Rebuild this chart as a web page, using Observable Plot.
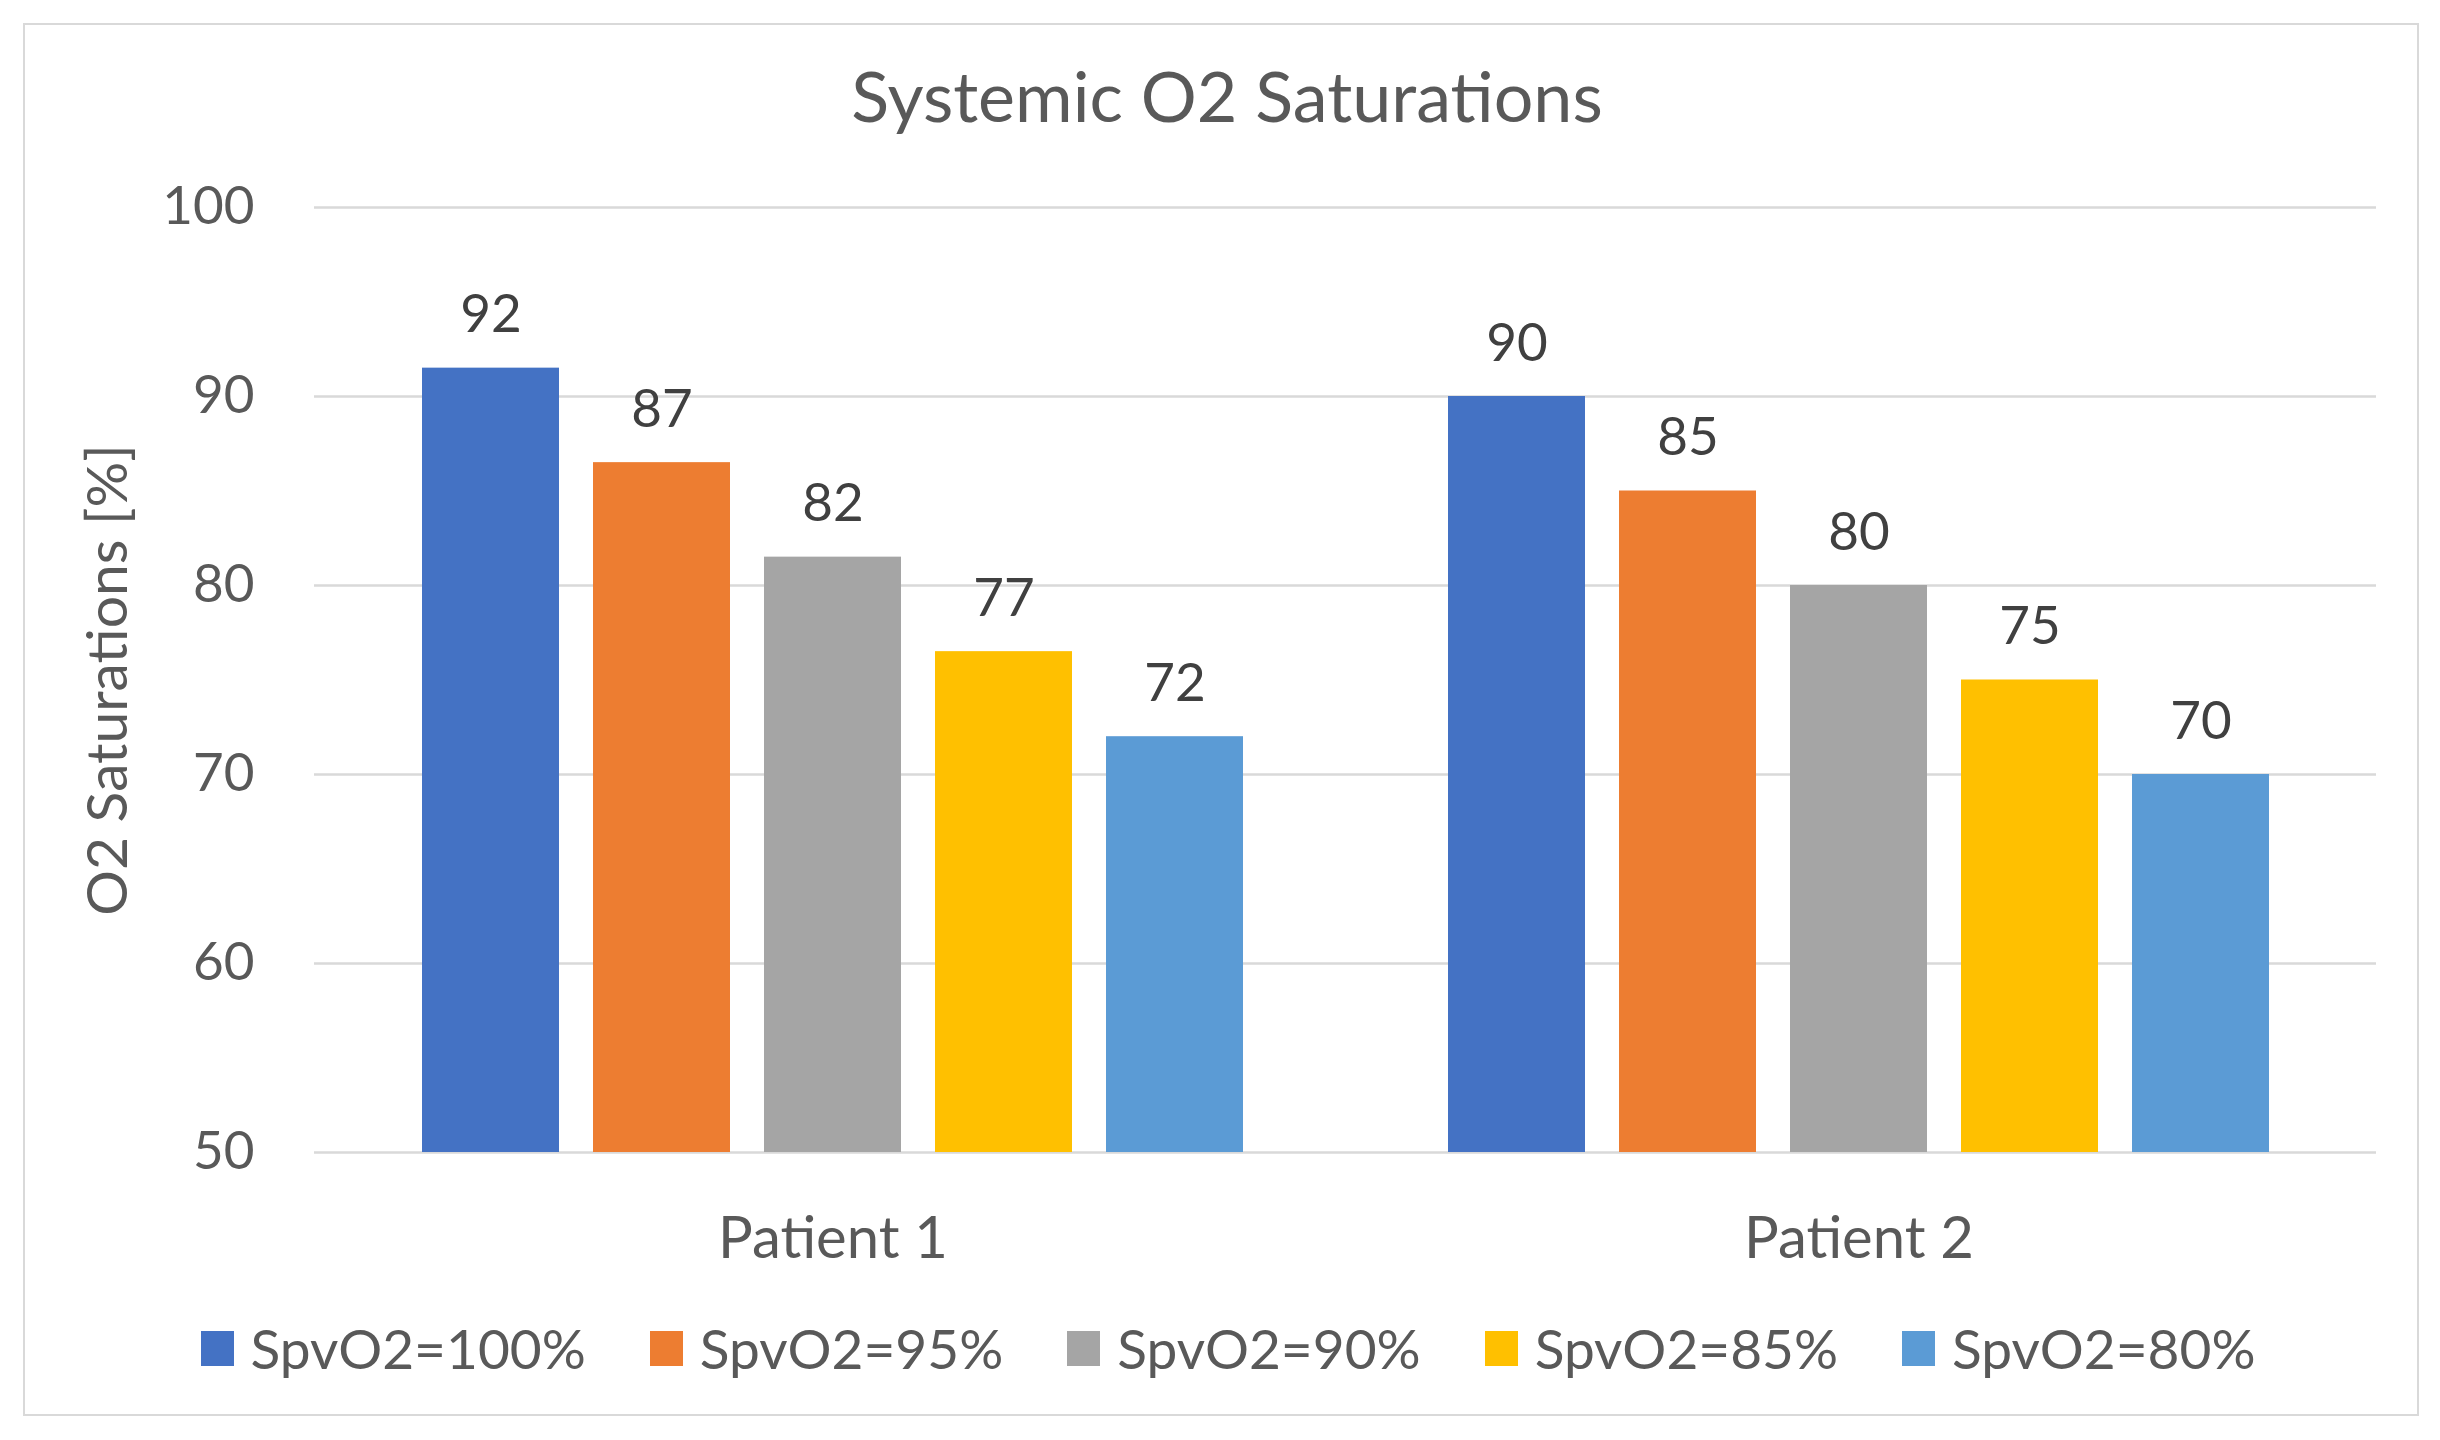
<!DOCTYPE html>
<html>
<head>
<meta charset="utf-8">
<script src="https://cdn.jsdelivr.net/npm/d3@7"></script>
<script src="https://cdn.jsdelivr.net/npm/@observablehq/plot@0.6"></script>
<style>
  html, body { margin: 0; padding: 0; background: #fff; }
  #page { position: relative; width: 2440px; height: 1440px; font-family: Lato, "Open Sans", sans-serif; color: #595959; }
  #frame { position: absolute; left: 23px; top: 23px; width: 2392px; height: 1389px; border: 2px solid #d9d9d9; box-sizing: content-box; }
  #title { position: absolute; left: 0; width: 2454px; top: 50px; text-align: center; font-size: 70px; line-height: 90px; color: #595959; }
  #chart { position: absolute; left: 0; top: 0; }
  #legend { position: absolute; left: 0; width: 2456px; top: 1316px; display: flex; justify-content: center; align-items: center; font-size: 55px; line-height: 64px; color: #595959; }
  .item { display: flex; align-items: center; margin: 0 32px; }
  .sw { width: 33px; height: 35px; margin-right: 17px; }
</style>
</head>
<body>
<div id="page">
  <div id="frame"></div>
  <div id="chart"></div>
  <div id="title"></div>
  <div id="legend"></div>
</div>
<script>
const chartTitle = "Systemic O2 Saturations";
const yLabel = "O2 Saturations [%]";
const patients = ["Patient 1", "Patient 2"];
const series = ["SpvO2=100%", "SpvO2=95%", "SpvO2=90%", "SpvO2=85%", "SpvO2=80%"];
const patient1Values = [91.5, 86.5, 81.5, 76.5, 72];
const patient2Values = [90, 85, 80, 75, 70];
const patient1Labels = ["92", "87", "82", "77", "72"];
const patient2Labels = ["90", "85", "80", "75", "70"];
const colors = ["#4472C4", "#ED7D31", "#A5A5A5", "#FFC000", "#5B9BD5"];
const yTicks = [50, 60, 70, 80, 90, 100];

// Build table
const valuesByPatient = [patient1Values, patient2Values];
const labelsByPatient = [patient1Labels, patient2Labels];
const data = [];
patients.forEach((p, pi) => {
  series.forEach((s, si) => {
    data.push({patient: p, series: s, key: p + "|" + s, value: valuesByPatient[pi][si], label: labelsByPatient[pi][si]});
  });
});
// x domain: per-patient keys with one spacer slot between groups
const xDomain = [];
patients.forEach((p, pi) => {
  if (pi > 0) xDomain.push("spacer" + pi);
  series.forEach(s => xDomain.push(p + "|" + s));
});
const middle = series[Math.floor(series.length / 2)];
const xTicks = patients.map(p => p + "|" + middle);

const chart = Plot.plot({
  width: 2440,
  height: 1300,
  marginLeft: 314,
  marginRight: 64,
  marginTop: 207,
  marginBottom: 148,
  style: {fontFamily: "Lato, 'Open Sans', sans-serif", fontSize: "52px", color: "#595959", background: "transparent"},
  x: {domain: xDomain, paddingInner: 0.2, paddingOuter: 0.6, label: null},
  y: {domain: [50, 100], label: null},
  color: {domain: series, range: colors},
  marks: [
    Plot.ruleY(yTicks, {stroke: "#d9d9d9", strokeWidth: 2.5}),
    Plot.barY(data, {x: "key", y1: 50, y2: "value", fill: "series"}),
    Plot.text(data, {x: "key", y: "value", text: "label", lineAnchor: "bottom", dy: -36, fill: "#404040", fontSize: 53}),
    Plot.axisY(yTicks, {tickSize: 0, tickPadding: 60, fontSize: 53, fill: "#595959", label: yLabel, labelAnchor: "center", labelArrow: "none", labelOffset: 228, fontSize: 53}),
    Plot.axisX(xTicks, {tickSize: 0, tickPadding: 64, fontSize: 58, fill: "#595959", tickFormat: d => d.split("|")[0], label: null})
  ]
});
document.getElementById("chart").appendChild(chart);
// enlarge the y-axis label slightly
chart.querySelectorAll("g[aria-label='y-axis label'] text").forEach(t => t.setAttribute("font-size", 57));

document.getElementById("title").textContent = chartTitle;
const legend = document.getElementById("legend");
series.forEach((s, i) => {
  const item = document.createElement("div");
  item.className = "item";
  const sw = document.createElement("div");
  sw.className = "sw";
  sw.style.background = colors[i];
  const t = document.createElement("span");
  t.textContent = s;
  item.appendChild(sw);
  item.appendChild(t);
  legend.appendChild(item);
});
</script>
</body>
</html>
